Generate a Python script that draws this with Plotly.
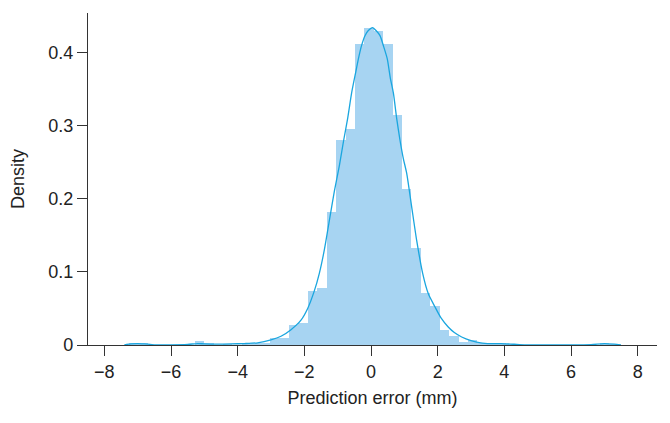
import plotly.graph_objects as go

# ── Histogram bins (density) ──────────────────────────────────────────────────
bin_width = 0.283
bin_centers = [
    -7.123, -6.840, -5.145, -4.862, -4.297, -3.731, -3.449, -3.166, -2.884, -2.601,
    -2.319, -2.036, -1.754, -1.471, -1.188, -0.906, -0.623, -0.341, -0.058, 0.225,
    0.507, 0.790, 1.073, 1.355, 1.638, 1.920, 2.203, 2.486, 2.768, 3.051,
    3.333, 3.616, 3.898, 4.181, 7.007, 7.290,
]
bin_density = [
    0.002, 0.002, 0.005, 0.002, 0.001, 0.001, 0.002, 0.002, 0.009, 0.009,
    0.027, 0.030, 0.074, 0.078, 0.182, 0.281, 0.296, 0.412, 0.433, 0.429,
    0.412, 0.315, 0.214, 0.132, 0.071, 0.054, 0.020, 0.012, 0.004, 0.007,
    0.002, 0.001, 0.002, 0.001, 0.0015, 0.001,
]

# ── KDE curve ────────────────────────────────────────────────────────────────
kde_x = [
    -7.4, -7.2, -7.0, -6.8, -6.5, -6.0, -5.5, -5.2, -5.0, -4.6, -4.2, -3.8, -3.4,
    -3.0, -2.7, -2.4, -2.1, -1.9, -1.7, -1.55, -1.4, -1.25, -1.1, -0.95, -0.82,
    -0.7, -0.58, -0.45, -0.38, -0.28, -0.18, -0.08, 0.05, 0.15, 0.27, 0.38, 0.49,
    0.58, 0.67, 0.77, 0.87, 0.97, 1.07, 1.22, 1.37, 1.55, 1.72, 1.92, 2.1, 2.31,
    2.5, 2.72, 3.0, 3.17, 3.5, 3.9, 4.3, 4.6, 5.0, 6.0, 6.6, 7.0, 7.3, 7.5,
]
kde_y = [
    0.0003, 0.0015, 0.002, 0.0015, 0.0003, 0.0002, 0.0008, 0.002, 0.0015, 0.0012,
    0.0015, 0.002, 0.003, 0.007, 0.012, 0.021, 0.034, 0.050, 0.074, 0.098, 0.130,
    0.170, 0.210, 0.245, 0.280, 0.310, 0.345, 0.375, 0.391, 0.410, 0.423, 0.430,
    0.434, 0.430, 0.423, 0.408, 0.391, 0.365, 0.345, 0.310, 0.280, 0.255, 0.235,
    0.189, 0.143, 0.098, 0.070, 0.052, 0.037, 0.025, 0.017, 0.011, 0.006, 0.004,
    0.002, 0.002, 0.001, 0.0003, 0.0001, 0.0001, 0.0005, 0.002, 0.0012, 0.0003,
]

x_ticks = [-8, -6, -4, -2, 0, 2, 4, 6, 8]
y_ticks = [0, 0.1, 0.2, 0.3, 0.4]

BAR_COLOR = "#a7d4f2"
LINE_COLOR = "#1aa6df"
AXIS_COLOR = "#333333"
FONT = dict(family="Liberation Sans, Arial, sans-serif", size=18, color="#222222")

fig = go.Figure()
fig.add_trace(go.Bar(
    x=bin_centers, y=bin_density, width=bin_width,
    marker=dict(color=BAR_COLOR, line=dict(width=0)),
    showlegend=False, hoverinfo="skip",
))
fig.add_trace(go.Scatter(
    x=kde_x, y=kde_y, mode="lines",
    line=dict(color=LINE_COLOR, width=1.3, shape="spline", smoothing=0.6),
    showlegend=False,
))

_axis = dict(
    showgrid=False, zeroline=False, automargin=False,
    showline=True, linecolor=AXIS_COLOR, linewidth=1.3,
    ticks="outside", ticklen=10, tickwidth=1.3, tickcolor=AXIS_COLOR,
    tickfont=FONT,
)

# page body has an 8px margin, so the figure box is offset by 8px
fig.update_layout(
    template="none",
    width=670, height=423,
    margin=dict(l=80, r=21, t=5, b=86),
    paper_bgcolor="white", plot_bgcolor="white",
    font=FONT,
    bargap=0,
    xaxis=dict(
        **_axis,
        range=[-8.49, 8.58], tickvals=x_ticks,
        title=dict(text="Prediction error (mm)", font=FONT, standoff=10),
    ),
    yaxis=dict(
        **_axis,
        range=[0, 0.454], tickvals=y_ticks,
        title=dict(text="Density", font=FONT, standoff=18),
    ),
)

fig.write_html("out.html")
